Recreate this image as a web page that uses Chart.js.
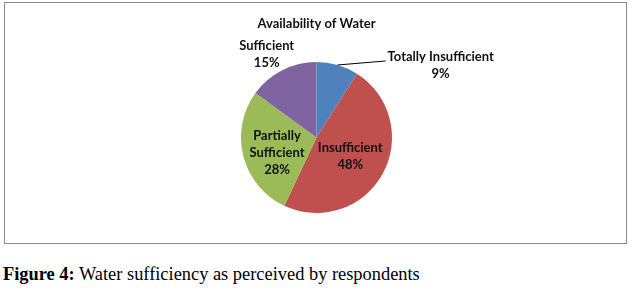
<!DOCTYPE html>
<html>
<head>
<meta charset="utf-8">
<script src="https://cdn.jsdelivr.net/npm/chart.js@4"></script>
<style>
  html, body { margin:0; padding:0; background:#fff; width:632px; height:288px; overflow:hidden; }
  #box { position:absolute; left:4px; top:2px; width:621px; height:240px; border:1px solid #8a8a8a; }
  #box canvas { display:block; }
  #caption { position:absolute; left:3px; top:263px; font-family:"Liberation Serif","Times New Roman",serif; font-size:18.4px; line-height:22px; color:#000; white-space:nowrap; }
</style>
</head>
<body>
<div id="box"><canvas id="c" width="621" height="240"></canvas></div>
<div id="caption"><b>Figure 4:</b> Water sufficiency as perceived by respondents</div>
<script>
const chartTitle = "Availability of Water";
const categories = ["Totally Insufficient", "Insufficient", "Partially Sufficient", "Sufficient"];
const labelLines = [["Totally Insufficient"], ["Insufficient"], ["Partially", "Sufficient"], ["Sufficient"]];
const values = [9, 48, 28, 15];
const colors = ["#4F81BD", "#C0504D", "#9BBB59", "#8064A2"];

// label placement style (radius factor, angle nudge in degrees, leader line)
const labelPlacement = [
  { leader: true, dx: 48, dy: -4 },
  { f: 0.51, da: 0 },
  { f: 0.56, da: -6.5 },
  { f: 1.28, da: -4 }
];

const FONT = "bold 13px Lato";
const labelPlugin = {
  id: "pieLabels",
  afterDatasetsDraw(chart) {
    const ctx = chart.ctx;
    const meta = chart.getDatasetMeta(0);
    const total = values.reduce((a, b) => a + b, 0);
    ctx.save();
    ctx.font = FONT;
    ctx.fillStyle = "#111";
    ctx.textAlign = "center";
    ctx.textBaseline = "middle";
    const lh = 17;
    meta.data.forEach((arc, i) => {
      const p = arc.getProps(["x", "y", "startAngle", "endAngle", "outerRadius"], true);
      const mid = (p.startAngle + p.endAngle) / 2;
      const pct = Math.round(values[i] / total * 100) + "%";
      const lines = labelLines[i].concat([pct]);
      const lp = labelPlacement[i];
      let cx, cy;
      if (lp.leader) {
        const ex = p.x + Math.cos(mid) * p.outerRadius;
        const ey = p.y + Math.sin(mid) * p.outerRadius;
        const lx = ex + lp.dx, ly = ey + lp.dy;
        ctx.strokeStyle = "#000";
        ctx.lineWidth = 1;
        ctx.beginPath();
        ctx.moveTo(ex, ey);
        ctx.lineTo(lx, ly);
        ctx.stroke();
        const w = ctx.measureText(lines[0]).width;
        cx = lx + 2 + w / 2;
        cy = ly + lh / 2 - 4;
      } else {
        const a = mid + lp.da * Math.PI / 180;
        cx = p.x + Math.cos(a) * p.outerRadius * lp.f;
        cy = p.y + Math.sin(a) * p.outerRadius * lp.f;
      }
      const top = cy - (lines.length - 1) * lh / 2;
      lines.forEach((t, k) => ctx.fillText(t, cx, top + k * lh));
    });
    ctx.restore();
  }
};

new Chart(document.getElementById("c"), {
  type: "pie",
  data: {
    labels: categories,
    datasets: [{ data: values, backgroundColor: colors, borderWidth: 0 }]
  },
  options: {
    responsive: false,
    animation: false,
    layout: { padding: { left: 236, right: 234, top: 0, bottom: 30 } },
    plugins: {
      legend: { display: false },
      tooltip: { enabled: false },
      title: {
        display: true, text: chartTitle, color: "#111",
        font: { family: "Lato", size: 13, weight: "bold", lineHeight: 1.2 },
        padding: { top: 13, bottom: 30.4 }
      }
    }
  },
  plugins: [labelPlugin]
});
</script>
</body>
</html>
